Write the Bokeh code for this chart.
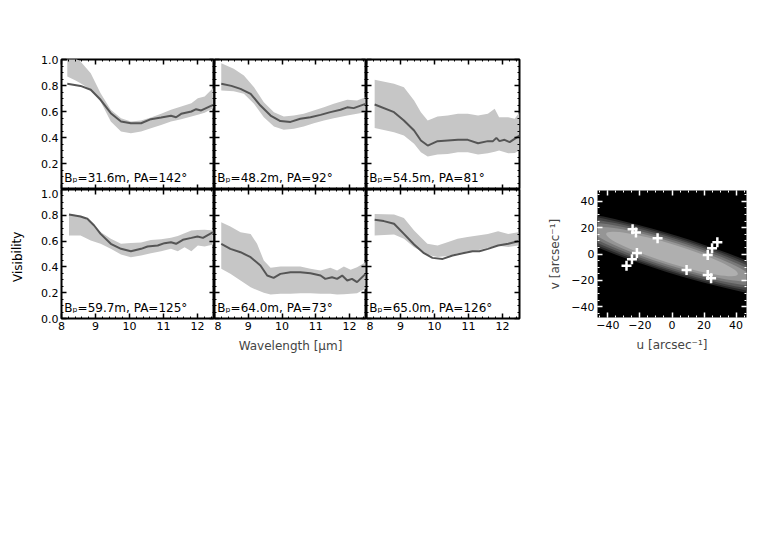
from bokeh.plotting import figure
from bokeh.layouts import row, column
from bokeh.models import Range1d, LinearAxis, FixedTicker, Spacer, PrintfTickFormatter
from bokeh.core.properties import value
from bokeh.embed import file_html
from bokeh.resources import INLINE

FONT = "DejaVu Sans"

# ---------------- data: visibility panels ----------------
labels = ["B\u209a=31.6m,  PA=142\u00b0", "B\u209a=48.2m,  PA=92\u00b0", "B\u209a=54.5m,  PA=81\u00b0",
          "B\u209a=59.7m,  PA=125\u00b0", "B\u209a=64.0m,  PA=73\u00b0", "B\u209a=65.0m,  PA=126\u00b0"]

p1_wl = [8.17, 8.56, 8.86, 9.15, 9.45, 9.75, 10.04, 10.34, 10.63, 10.93, 11.22, 11.37, 11.52, 11.82, 11.96, 12.11, 12.46]
p1_vis = [0.813, 0.797, 0.767, 0.69, 0.587, 0.523, 0.51, 0.51, 0.541, 0.554, 0.567, 0.556, 0.582, 0.6, 0.618, 0.608, 0.651]
p1_bwl = [8.17, 8.40, 8.56, 8.86, 9.15, 9.45, 9.75, 10.04, 10.34, 10.63, 10.93, 11.22, 11.52, 11.82, 12.01, 12.21, 12.46]
p1_hi = [1.05, 1.01, 0.985, 0.895, 0.74, 0.613, 0.549, 0.523, 0.531, 0.554, 0.582, 0.613, 0.638, 0.664, 0.702, 0.715, 0.78]
p1_lo = [0.87, 0.84, 0.818, 0.767, 0.677, 0.523, 0.446, 0.433, 0.446, 0.472, 0.497, 0.523, 0.541, 0.562, 0.575, 0.59, 0.625]

p2_wl = [8.2, 8.5, 8.77, 9.07, 9.36, 9.66, 9.95, 10.25, 10.54, 10.84, 11.14, 11.43, 11.73, 11.93, 12.12, 12.47]
p2_vis = [0.813, 0.797, 0.774, 0.736, 0.646, 0.569, 0.526, 0.52, 0.544, 0.556, 0.574, 0.595, 0.613, 0.632, 0.626, 0.659]
p2_bwl = [8.2, 8.57, 8.87, 9.17, 9.46, 9.76, 10.05, 10.35, 10.64, 10.94, 11.24, 11.53, 11.93, 12.22, 12.47]
p2_hi = [0.972, 0.928, 0.877, 0.787, 0.672, 0.595, 0.562, 0.569, 0.582, 0.608, 0.633, 0.659, 0.69, 0.685, 0.71]
p2_lo = [0.762, 0.755, 0.736, 0.659, 0.556, 0.485, 0.459, 0.467, 0.485, 0.51, 0.531, 0.549, 0.569, 0.582, 0.595]

p3_wl = [8.24, 8.81, 9.1, 9.4, 9.6, 9.8, 10.09, 10.39, 10.69, 10.98, 11.28, 11.57, 11.72, 11.82, 11.91, 12.06, 12.21, 12.5]
p3_vis = [0.654, 0.595, 0.531, 0.454, 0.377, 0.338, 0.372, 0.377, 0.382, 0.382, 0.356, 0.372, 0.372, 0.397, 0.372, 0.382, 0.364, 0.415]
p3_bwl = [8.24, 8.81, 9.1, 9.4, 9.6, 9.8, 10.09, 10.39, 10.69, 10.98, 11.28, 11.57, 11.77, 11.9, 12.17, 12.36, 12.5]
p3_hi = [0.844, 0.813, 0.787, 0.685, 0.595, 0.531, 0.562, 0.569, 0.582, 0.582, 0.569, 0.582, 0.621, 0.556, 0.556, 0.544, 0.595]
p3_lo = [0.474, 0.441, 0.415, 0.351, 0.287, 0.254, 0.269, 0.274, 0.287, 0.287, 0.269, 0.279, 0.29, 0.3, 0.279, 0.28, 0.3]

p4_wl = [8.22, 8.56, 8.76, 8.96, 9.15, 9.45, 9.75, 10.04, 10.34, 10.53, 10.83, 11.03, 11.22, 11.37, 11.57, 11.82, 12.0, 12.16, 12.46]
p4_vis = [0.806, 0.791, 0.773, 0.721, 0.656, 0.579, 0.54, 0.522, 0.54, 0.558, 0.566, 0.584, 0.591, 0.579, 0.61, 0.625, 0.636, 0.625, 0.669]
p4_bwl = [8.22, 8.56, 8.86, 9.15, 9.45, 9.75, 10.04, 10.34, 10.63, 10.93, 11.22, 11.42, 11.62, 11.82, 12.01, 12.21, 12.46]
p4_hi = [0.81, 0.796, 0.747, 0.67, 0.618, 0.579, 0.585, 0.59, 0.608, 0.614, 0.626, 0.64, 0.66, 0.683, 0.686, 0.688, 0.683]
p4_lo = [0.643, 0.643, 0.605, 0.579, 0.54, 0.496, 0.475, 0.488, 0.506, 0.522, 0.54, 0.522, 0.553, 0.522, 0.566, 0.558, 0.574]

p5_wl = [8.2, 8.47, 8.77, 9.07, 9.36, 9.56, 9.75, 9.95, 10.25, 10.54, 10.84, 11.14, 11.28, 11.48, 11.63, 11.78, 11.93, 12.07, 12.22, 12.47]
p5_vis = [0.579, 0.54, 0.514, 0.475, 0.411, 0.333, 0.315, 0.346, 0.359, 0.359, 0.351, 0.333, 0.307, 0.32, 0.307, 0.333, 0.295, 0.307, 0.282, 0.346]
p5_bwl = [8.2, 8.47, 8.77, 9.07, 9.26, 9.46, 9.66, 9.95, 10.25, 10.54, 10.84, 11.14, 11.43, 11.63, 11.83, 12.03, 12.22, 12.47]
p5_hi = [0.747, 0.713, 0.669, 0.656, 0.579, 0.45, 0.393, 0.403, 0.403, 0.403, 0.385, 0.372, 0.393, 0.372, 0.403, 0.377, 0.398, 0.437]
p5_lo = [0.385, 0.346, 0.295, 0.243, 0.22, 0.2, 0.186, 0.191, 0.191, 0.196, 0.196, 0.191, 0.191, 0.186, 0.188, 0.191, 0.195, 0.23]

p6_wl = [8.24, 8.51, 8.81, 9.1, 9.4, 9.69, 9.94, 10.24, 10.53, 10.83, 11.12, 11.32, 11.57, 11.87, 12.17, 12.46]
p6_vis = [0.765, 0.755, 0.734, 0.656, 0.574, 0.506, 0.47, 0.462, 0.488, 0.506, 0.522, 0.522, 0.54, 0.566, 0.579, 0.599]
p6_bwl = [8.24, 8.81, 9.1, 9.4, 9.59, 9.79, 10.09, 10.38, 10.68, 10.97, 11.27, 11.57, 11.87, 12.17, 12.46]
p6_hi = [0.811, 0.806, 0.78, 0.682, 0.631, 0.579, 0.566, 0.592, 0.618, 0.631, 0.643, 0.656, 0.677, 0.656, 0.669]
p6_lo = [0.643, 0.651, 0.618, 0.553, 0.525, 0.495, 0.477, 0.485, 0.505, 0.52, 0.53, 0.548, 0.563, 0.555, 0.566]

wl_ticks = [8, 9, 10, 11, 12]
vis_ticks = [0.0, 0.2, 0.4, 0.6, 0.8, 1.0]
vis_ticks_top = [0.2, 0.4, 0.6, 0.8, 1.0]

# ---------------- data: uv plane ----------------
uv_u = [-24.6, -22.5, -9.0, -21.9, -25.0, -28.4, 9.1, 22.3, 25.0, 28.3, 22.3, 24.4]
uv_v = [18.9, 16.3, 12.0, 0.8, -4.0, -8.9, -12.2, -0.8, 4.3, 9.0, -16.0, -18.5]
uv_ticks = [-40, -20, 0, 20, 40]
# model visibility contours (nested ellipses, outer to inner)
mod_w = [172, 156, 140, 123, 105, 86]
mod_h = [28.5, 26.0, 23.4, 20.6, 17.6, 14.4]
mod_col = ["#262626", "#404040", "#5c5c5c", "#787878", "#959595", "#afafaf"]
mod_angle = -0.30


def minor_list(start, stop, step):
    n = int(round((stop - start) / step))
    return [round(start + i * step, 4) for i in range(n + 1)]


def add_axis(p, side, ticks, minor, show, overrides=None, label=None, color="black", fmt=None):
    ax = LinearAxis(ticker=FixedTicker(ticks=ticks, minor_ticks=minor))
    ax.axis_line_color = None
    ax.major_tick_in = 5
    ax.major_tick_out = 0
    ax.minor_tick_in = 2
    ax.minor_tick_out = 0
    ax.major_tick_line_color = color
    ax.minor_tick_line_color = color
    ax.major_tick_line_width = 1.5
    if fmt is not None:
        ax.formatter = fmt
    if show:
        ax.major_label_text_font = FONT
        ax.major_label_text_font_size = "11px"
        ax.major_label_text_color = "black"
        ax.major_label_standoff = 3
    else:
        ax.major_label_text_color = None
        ax.major_label_standoff = 0
    if overrides:
        ax.major_label_overrides = overrides
    if label:
        ax.axis_label = label
        ax.axis_label_text_font = FONT
        ax.axis_label_text_font_size = "12px"
        ax.axis_label_text_font_style = "normal"
        ax.axis_label_standoff = 6
    p.add_layout(ax, side)
    return ax


panels = [
    (p1_wl, p1_vis, p1_bwl, p1_hi, p1_lo),
    (p2_wl, p2_vis, p2_bwl, p2_hi, p2_lo),
    (p3_wl, p3_vis, p3_bwl, p3_hi, p3_lo),
    (p4_wl, p4_vis, p4_bwl, p4_hi, p4_lo),
    (p5_wl, p5_vis, p5_bwl, p5_hi, p5_lo),
    (p6_wl, p6_vis, p6_bwl, p6_hi, p6_lo),
]

x_minor = minor_list(8.0, 12.4, 0.2)
y_minor = minor_list(0.0, 1.0, 0.05)

figs = []
for i, (wl, vis, bwl, hi, lo) in enumerate(panels):
    r, c = divmod(i, 3)
    p = figure(frame_width=[153, 152, 153][c], frame_height=[130, 129][r],
               x_range=Range1d(8, 12.5), y_range=Range1d(0, 1.0),
               x_axis_location=None, y_axis_location=None,
               min_border_left=29 if c == 0 else 0,
               min_border_right=5 if c == 2 else 0,
               min_border_top=59 if r == 0 else 0,
               min_border_bottom=45 if r == 1 else 0,
               output_backend="svg", toolbar_location=None)
    p.grid.visible = False
    p.outline_line_color = "black"
    p.outline_line_width = 2
    p.varea(x=bwl, y1=lo, y2=hi, fill_color="#c6c6c6")
    p.line(wl, vis, line_color="#555555", line_width=2)
    p.text(x=[8.08], y=[0.085], text=[labels[i]], text_font=value(FONT),
           text_font_size="12px", text_baseline="middle", text_align="left", text_color="black")
    add_axis(p, "left", vis_ticks_top if r == 0 else vis_ticks, y_minor, c == 0,
             fmt=PrintfTickFormatter(format="%.1f"))
    add_axis(p, "right", vis_ticks, y_minor, False)
    add_axis(p, "above", wl_ticks, x_minor, False)
    add_axis(p, "below", wl_ticks, x_minor, r == 1,
             label="Wavelength [\u03bcm]" if (r == 1 and c == 1) else None)
    figs.append(p)

# "Visibility" label column
vf = figure(width=32, height=363, x_range=Range1d(0, 32), y_range=Range1d(0, 363),
            x_axis_location=None, y_axis_location=None, min_border=0,
            outline_line_color=None, output_backend="svg", toolbar_location=None)
vf.grid.visible = False
vf.text(x=[17], y=[175], text=["Visibility"], angle=1.5708, text_font=value(FONT),
        text_font_size="12px", text_align="center", text_baseline="middle", text_color="black")

# uv-plane panel
rf = figure(frame_width=149, frame_height=127,
            x_range=Range1d(-46.5, 46.5), y_range=Range1d(-48.3, 48.3),
            x_axis_location=None, y_axis_location=None,
            min_border_left=55, min_border_right=5, min_border_top=190, min_border_bottom=45,
            output_backend="svg", toolbar_location=None)
rf.grid.visible = False
rf.background_fill_color = "black"
rf.outline_line_color = None
for w, h, col in zip(mod_w, mod_h, mod_col):
    rf.ellipse(x=[0], y=[0], width=[w], height=[h], angle=mod_angle, fill_color=col, line_color=None)
rf.scatter(uv_u, uv_v, marker="cross", size=10, line_color="white", line_width=2.5)
uv_minor = minor_list(-50, 50, 5)
minus = {-40: "\u221240", -20: "\u221220"}
add_axis(rf, "left", uv_ticks, uv_minor, True, overrides=minus, label="v [arcsec\u207b\u00b9]", color="white")
add_axis(rf, "below", uv_ticks, uv_minor, True, overrides=minus, label="u [arcsec\u207b\u00b9]", color="white")
add_axis(rf, "right", uv_ticks, uv_minor, False, color="white")
add_axis(rf, "above", uv_ticks, uv_minor, False, color="white")

grid = column(row(figs[0], figs[1], figs[2]), row(figs[3], figs[4], figs[5]))
layout = row(vf, grid, Spacer(width=18), rf)

open("out.html", "w").write(file_html(layout, INLINE, title="Visibilities"))
